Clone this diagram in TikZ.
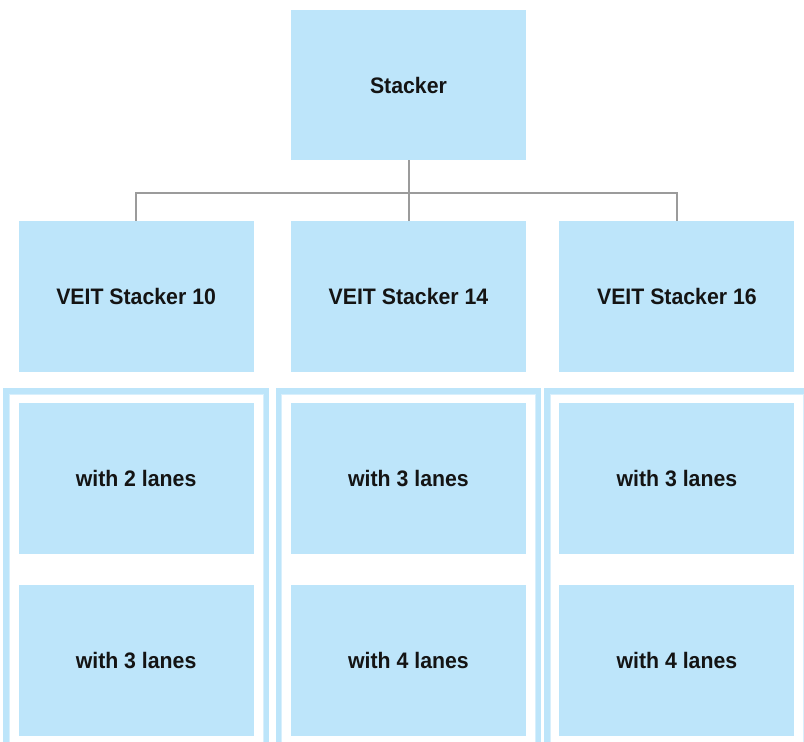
\documentclass[tikz,border=0pt]{standalone}
\usepackage{fontspec}
\setmainfont{Liberation Sans}[FakeStretch=0.95]
\usepackage{tikz}
\usetikzlibrary{positioning}
\definecolor{sky}{RGB}{189,229,250}
\definecolor{skyline}{RGB}{216,239,252}
\definecolor{wire}{RGB}{155,155,155}
\definecolor{ink}{RGB}{20,20,20}

\begin{document}
\begin{tikzpicture}[x=1pt, y=1pt,
		box/.style={fill=sky, minimum width=235pt, minimum height=151pt, inner sep=0pt,
			font=\bfseries\fontsize{22.4}{26}\selectfont, text=ink},
		conn/.style={draw=wire, line width=2pt},
		frame/.style={draw=sky, line width=5.4pt},
		frameline/.style={draw=skyline, line width=0.8pt}]
		\useasboundingbox (0,0) rectangle (804,-742);
		\clip (0,0) rectangle (804,-742);
		% top and the three models
		\node[box, minimum height=150pt] (st) at (408.5,-85) {Stacker};
		\node[box] (s14) at (408.5,-296.5) {VEIT Stacker 14};
		\node[box, left=37pt of s14] (s10) {VEIT Stacker 10};
		\node[box, right=33pt of s14] (s16) {VEIT Stacker 16};
		% lane variants
		\node[box, below=31pt of s10] (a10) {with 2 lanes};
		\node[box, below=30pt of a10] (b10) {with 3 lanes};
		\node[box, below=31pt of s14] (a14) {with 3 lanes};
		\node[box, below=30pt of a14] (b14) {with 4 lanes};
		\node[box, below=31pt of s16] (a16) {with 3 lanes};
		\node[box, below=30pt of a16] (b16) {with 4 lanes};
		% open frames round each group
		\foreach \c in {10,14,16} {
			\draw[frame] ([shift={(-12.4pt,-20pt)}]b\c.south west)
				-- ([shift={(-12.4pt,12.4pt)}]a\c.north west)
				-- ([shift={(12.4pt,12.4pt)}]a\c.north east)
				-- ([shift={(12.4pt,-20pt)}]b\c.south east);
			\draw[frameline] ([shift={(-9.2pt,-20pt)}]b\c.south west)
				-- ([shift={(-9.2pt,9.2pt)}]a\c.north west)
				-- ([shift={(9.2pt,9.2pt)}]a\c.north east)
				-- ([shift={(9.2pt,-20pt)}]b\c.south east);
		}
		% tree lines
		\coordinate (bus) at ([yshift=-33pt]st.south);
		\draw[conn] (st.south) -- (s14.north);
		\draw[conn] (s10.north) |- (bus) -| (s16.north);
	\end{tikzpicture}
\end{document}
